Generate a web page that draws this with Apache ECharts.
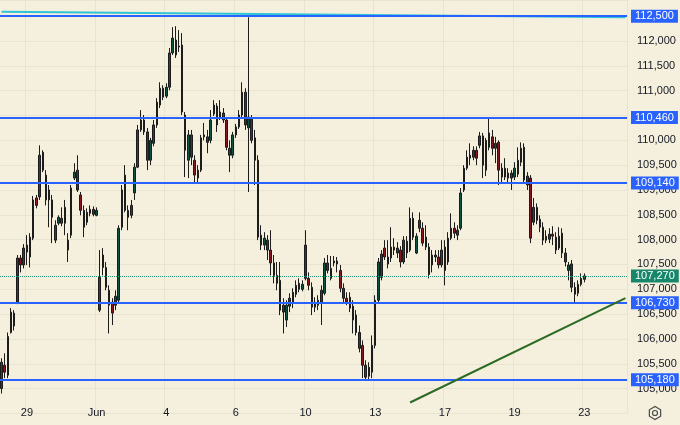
<!DOCTYPE html>
<html>
<head>
<meta charset="utf-8">
<script src="https://cdn.jsdelivr.net/npm/echarts@6/dist/echarts.min.js"></script>
<style>
  html, body { margin: 0; padding: 0; background: #f5f0dd; }
  #main { width: 680px; height: 425px; }
</style>
</head>
<body>
<div id="main"></div>
<script>
// candles: [open, close, low, high] built from these
var opens = [
  105000,105470,105270,106130,106520,106740,107630,107490,107750,107650,
  108030,108840,108860,109760,109300,108800,108800,107990,108330,108430,
  108650,107990,108090,109240,109400,108900,108590,108350,108530,108610,
  108490,106580,107690,107440,106980,106740,106680,106780,108250,109300,
  108450,108690,108940,109460,110210,110410,110170,109600,109940,110310,
  110710,111050,110890,111070,111760,112020,111900,111920,110510,109600,
  110110,109600,109240,109400,110110,110070,110000,110530,110690,110450,
  110550,110410,109700,109700,110110,110270,110510,110970,110250,110450,
  110050,109600,108090,107890,107990,107790,107530,107280,107180,106680,
  106380,106660,106740,106900,107120,107000,107890,107220,107040,106640,
  106680,106740,106920,107530,107420,107530,107570,107380,107020,106820,
  106840,106660,106480,106130,105870,105230,105430,105330,105870,106780,
  107240,107830,107650,107630,107850,107730,107790,107550,107970,107790,
  108430,107730,108390,108230,108050,107850,107490,107690,107650,107490,
  107850,107550,108030,108230,108090,108230,109000,109440,109700,109660,
  109800,109900,110090,109400,110150,110070,109840,109960,109260,109440,
  109240,109340,109260,109320,109560,109860,109100,109240,108350,108650,
  108410,108250,108070,108010,108110,108050,107830,108130,107730,107380,
  107510,107040,106920,107100,107200
];
var closes = [
  105530,105330,106050,106540,106260,107630,107490,107830,107890,108050,
  108800,108690,109700,109400,108800,109000,108450,108290,108450,108330,
  108330,107790,109040,109360,109000,108590,108250,108550,108610,108510,
  108590,107240,107440,107040,106680,106520,106860,108230,109000,108590,
  108590,108490,109460,110210,110410,110170,109600,110000,110310,110770,
  111050,110870,111070,111760,112060,111720,111880,110570,109800,110110,
  109660,109300,109400,110050,110070,109960,110410,110710,110310,110570,
  110410,109860,109840,110110,110270,110510,110970,110310,110470,110000,
  109600,108050,107890,108030,107790,107530,107280,107120,106580,106540,
  106680,106820,106940,107080,107000,107100,107220,107080,106640,106740,
  106780,106980,107530,107380,107220,107570,107510,107020,106820,106740,
  106620,106380,106130,105810,105470,105470,105250,105870,106780,107550,
  107710,107650,107510,107850,107790,107830,107550,107990,107730,108430,
  108050,108070,108230,107930,107850,107300,107690,107650,107490,107790,
  107380,108030,108230,108130,108190,108940,109440,109660,109640,109800,
  109640,110090,109500,110000,109860,109840,109940,109400,109440,109260,
  109340,109240,109440,109600,109840,109200,109280,108030,108650,108390,
  108250,107990,107990,108110,108070,107790,108070,107730,107550,107490,
  107040,106900,107100,107220,107270
];
var lows = [
  104900,105210,105210,106110,106170,106700,107340,107420,107490,107440,
  107990,108630,108800,109360,108690,108250,107930,107930,108290,108270,
  108090,107550,108030,109200,108960,108490,108050,108290,108470,108470,
  108470,106540,107280,106980,106110,106280,106580,106720,108190,108550,
  108190,108430,108800,109440,110170,110110,109400,109500,109880,110250,
  110650,110810,110850,111010,111720,111660,111780,110510,109260,109240,
  109500,109140,109160,109360,110000,109740,109940,110490,110170,110410,
  110350,109800,109360,109640,110050,110230,110470,110210,108960,109940,
  109100,107990,107790,107790,107590,107280,107120,106980,106480,106110,
  106240,106540,106620,106840,106940,106960,107180,106980,106480,106540,
  106580,106280,106880,107320,107180,107460,107340,106940,106720,106680,
  106540,106110,106070,105730,105210,105170,105170,105210,105810,106740,
  107180,107590,107420,107550,107690,107630,107440,107510,107630,107750,
  107990,107710,108150,107870,107790,107220,107340,107550,107420,107440,
  107080,107490,107990,108030,107990,108190,108960,109400,109500,109600,
  109500,109840,109240,109280,109800,109700,109540,109100,109160,109200,
  109160,109000,109200,109260,109480,109160,109000,107930,108290,108310,
  108150,107890,107930,107930,107890,107710,107790,107630,107460,107180,
  106940,106740,106860,107060,107140
];
var highs = [
  105610,105710,106130,106620,106580,107690,107690,107910,108090,108130,
  108880,108900,109900,109800,109400,109100,108900,108390,108490,108650,
  108800,108130,109100,109540,109700,108960,108690,108630,108690,108670,
  108650,107790,107830,107550,107080,106820,106980,108290,109100,109500,
  108690,108800,109540,110310,110610,110510,110250,110050,110410,110850,
  111170,111110,111150,111860,112280,112300,112220,112160,110570,110210,
  110210,109700,109500,110110,110350,110210,110610,110810,110750,110810,
  110650,110470,110000,110170,110330,110610,111170,111050,112480,110510,
  110210,109700,108290,108150,108090,108190,107690,107550,107550,106820,
  106780,106920,107020,107180,107220,107180,108190,107340,107140,106840,
  106880,107080,107630,107690,107670,107670,107650,107490,107120,106940,
  106940,106780,106580,106270,105970,105570,105530,106070,106880,107630,
  107790,107990,107990,108250,108030,107950,107870,108070,108070,108650,
  108550,108130,108550,108350,108290,107930,107790,107790,107790,107990,
  107990,108150,108530,108350,108290,109040,109500,109800,109940,109880,
  109880,110170,110150,110050,110470,110210,110070,110000,109540,109640,
  109440,109400,109560,109860,109960,109940,109360,109300,108840,108730,
  108490,108350,108190,108230,108270,108150,108250,108230,107830,107550,
  107590,107140,107180,107320,107320
];

// time axis: 198 slots, the last ones empty (right margin)
var slotCount = 198;
var tickLabels = ['29', 'Jun', '4', '6', '10', '13', '17', '19', '23'];
var tickIdx = [8, 30, 52, 74, 96, 118, 140, 162, 184];

// horizontal levels and the last price
var levelPrices = [112500, 110460, 109140, 106730, 105180];
var lastPrice = 107270;

// trend lines: [slot, price] pairs
var cyanLine = [[0, 112590], [197, 112480]];
var greenLine = [[129, 104720], [197, 106820]];

var FONT = 'Liberation Sans, Arial, sans-serif';
var fmt = function (v) { return Number(v).toLocaleString('en-US'); };

var slots = [];
for (var i = 0; i < slotCount; i++) slots.push(String(i));

var candles = opens.map(function (o, i) {
  return [o, closes[i], lows[i], highs[i]];
});

var isTick = function (index) { return tickIdx.indexOf(index) >= 0; };

var boxLabel = function (bg) {
  return {
    show: true,
    position: 'end',
    distance: 4,
    formatter: function (p) { return fmt(p.value); },
    color: '#ffffff',
    backgroundColor: bg,
    padding: [1, 4, 0, 4],
    lineHeight: 12,
    fontSize: 11,
    fontFamily: FONT
  };
};

var markData = [
  [
    { coord: cyanLine[0], lineStyle: { color: '#2ec4d6', width: 2, type: 'solid' }, label: { show: false } },
    { coord: cyanLine[1] }
  ]
];
levelPrices.forEach(function (p) {
  markData.push({
    yAxis: p,
    lineStyle: { color: '#2962ff', width: 2, type: 'solid' },
    label: boxLabel('#2962ff')
  });
});
markData.push({
  yAxis: lastPrice,
  lineStyle: { color: '#22997a', width: 1, type: 'dotted' },
  label: boxLabel('#17876b')
});
markData.push([
  { coord: greenLine[0], lineStyle: { color: '#2c6b24', width: 2, type: 'solid' }, label: { show: false } },
  { coord: greenLine[1] }
]);

// settings glyph bottom right
var hex = [];
for (var k = 0; k < 6; k++) {
  var a = Math.PI / 6 + k * Math.PI / 3;
  hex.push([655 + 6.5 * Math.cos(a), 413 + 6.5 * Math.sin(a)]);
}

var myChart = echarts.init(document.getElementById('main'));

var option = {
  animation: false,
  backgroundColor: '#f5f0dd',
  grid: { left: 0, right: 53, top: 0, bottom: 11.6 },
  xAxis: {
    type: 'category',
    data: slots,
    offset: -16.4,
    axisLine: { show: false },
    axisTick: { show: false },
    axisLabel: {
      interval: isTick,
      formatter: function (v, idx) { return tickLabels[tickIdx.indexOf(idx)]; },
      color: '#131722',
      fontSize: 11,
      fontFamily: FONT,
      margin: 10
    },
    splitLine: {
      show: true,
      interval: isTick,
      lineStyle: { color: '#e9e4cf', width: 1 }
    }
  },
  yAxis: {
    type: 'value',
    position: 'right',
    min: 104500,
    max: 112827,
    interval: 500,
    axisLine: { show: false },
    axisTick: { show: false },
    axisLabel: {
      showMinLabel: false,
      showMaxLabel: false,
      formatter: fmt,
      color: '#131722',
      fontSize: 11,
      fontFamily: FONT,
      margin: 10
    },
    splitLine: { show: true, lineStyle: { color: '#e9e4cf', width: 1 } }
  },
  series: [
    {
      type: 'candlestick',
      data: candles,
      barWidth: 2,
      clip: false,
      itemStyle: {
        color: '#0b5443',
        color0: '#861622',
        borderColor: '#1c1c1c',
        borderColor0: '#1c1c1c',
        borderWidth: 1
      },
      markLine: {
        silent: true,
        symbol: ['none', 'none'],
        animation: false,
        data: markData
      }
    }
  ],
  graphic: [
    { type: 'polygon', shape: { points: hex }, style: { fill: 'none', stroke: '#4a4a4a', lineWidth: 1.2 } },
    { type: 'circle', shape: { cx: 655, cy: 413, r: 2.5 }, style: { fill: 'none', stroke: '#4a4a4a', lineWidth: 1.2 } }
  ]
};

myChart.setOption(option);
</script>
</body>
</html>
